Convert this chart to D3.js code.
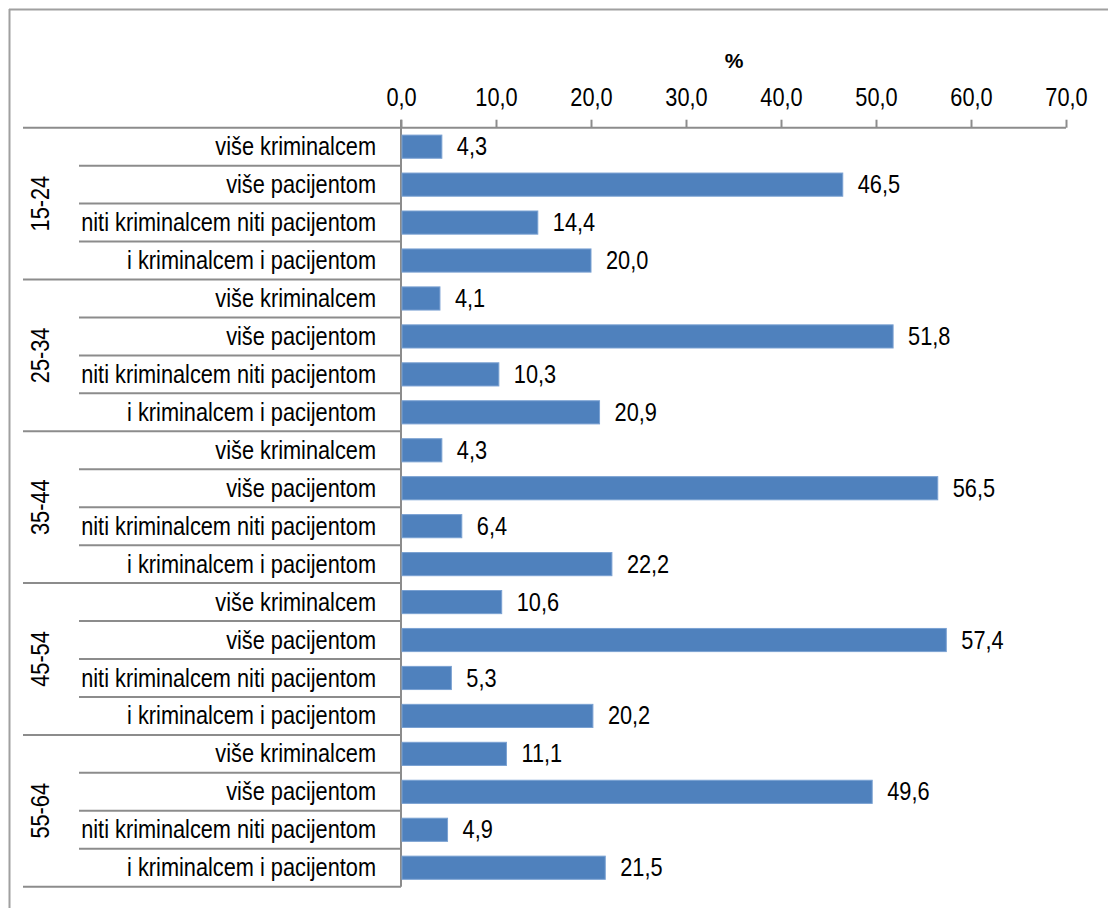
<!DOCTYPE html>
<html>
<head>
<meta charset="utf-8">
<script src="https://cdn.jsdelivr.net/npm/d3@7"></script>
<style>
	body { margin: 0; background: #fff; }
	svg text { font-family: 'Liberation Sans Narrow', 'Arial Narrow', 'Liberation Sans', Arial, sans-serif; fill: #000; }
</style>
</head>
<body>
<svg id="chart" width="1108" height="908"></svg>
<script>
// age groups and answer categories
const groups = ['15-24', '25-34', '35-44', '45-54', '55-64']
const answers = ['više kriminalcem', 'više pacijentom', 'niti kriminalcem niti pacijentom', 'i kriminalcem i pacijentom']

// values per group, in the order of answers
const values1524 = [4.3, 46.5, 14.4, 20.0]
const values2534 = [4.1, 51.8, 10.3, 20.9]
const values3544 = [4.3, 56.5, 6.4, 22.2]
const values4554 = [10.6, 57.4, 5.3, 20.2]
const values5564 = [11.1, 49.6, 4.9, 21.5]

const tickValues = [0, 10, 20, 30, 40, 50, 60, 70]
const axisTitle = '%'

const allValues = [values1524, values2534, values3544, values4554, values5564]

// flatten to rows
const rows = []
groups.forEach((g, gi) => {
	answers.forEach((a, ai) => {
		rows.push({ key: g + '|' + a, group: g, answer: a, value: allValues[gi][ai] })
	})
})

const svg = d3.select('#chart')
const lineColor = '#8c8c8c'
const barColor = '#4f81bd'
const fontSize = 25
//No narrow font offline, so squeeze the regular one
const squeeze = 'scale(0.87,1)'
const fmt = d => d3.format('.1f')(d).replace('.', ',')

//Chart frame (only top and left edges are visible)
svg.append('line').attr('x1', 9).attr('y1', 9.5).attr('x2', 1108).attr('y2', 9.5)
	.attr('stroke', '#a0a0a0').attr('stroke-width', 2)
svg.append('line').attr('x1', 9.5).attr('y1', 9).attr('x2', 9.5).attr('y2', 908)
	.attr('stroke', '#a0a0a0').attr('stroke-width', 2)

const plotLeft = 401, plotRight = 1066, plotTop = 127.7, plotBottom = 886.7

const x = d3.scaleLinear().domain([0, 70]).range([plotLeft, plotRight])
const y = d3.scaleBand().domain(rows.map(d => d.key)).range([plotTop, plotBottom]).paddingInner(0.39).paddingOuter(0.195)
const yStep = d3.scaleBand().domain(rows.map(d => d.key)).range([plotTop, plotBottom])

//Top axis
const xAxis = svg.append('g')
	.attr('transform', 'translate(0,' + plotTop + ')')
	.call(d3.axisTop(x).tickValues(tickValues).tickSize(8).tickSizeOuter(0).tickPadding(14).tickFormat(fmt))
xAxis.select('.domain').remove()
xAxis.selectAll('line').attr('stroke', lineColor).attr('stroke-width', 2)
xAxis.selectAll('text').style('font-size', fontSize + 'px').attr('fill', '#000').attr('transform', squeeze)
xAxis.attr('font-family', null).attr('font-size', null)

//Axis title
svg.append('text')
	.attr('x', 734).attr('y', 68)
	.attr('text-anchor', 'middle')
	.style('font-size', '21px')
	.style('font-weight', 'bold')
	.text(axisTitle)

//Horizontal rules: top line across, group and answer separators on the left
svg.append('line').attr('x1', 23).attr('x2', plotRight).attr('y1', plotTop).attr('y2', plotTop)
	.attr('stroke', lineColor).attr('stroke-width', 2)

rows.forEach((d, i) => {
	const yb = yStep(d.key) + yStep.bandwidth()
	const isGroupEnd = i % answers.length === answers.length - 1
	svg.append('line')
		.attr('x1', isGroupEnd ? 23 : 79).attr('x2', plotLeft)
		.attr('y1', yb).attr('y2', yb)
		.attr('stroke', lineColor).attr('stroke-width', 2)
})

//Vertical axis line
svg.append('line').attr('x1', plotLeft).attr('x2', plotLeft).attr('y1', plotTop - 8).attr('y2', plotBottom)
	.attr('stroke', lineColor).attr('stroke-width', 2)

//Bars
svg.append('g').selectAll('rect').data(rows).enter().append('rect')
	.attr('x', x(0) + 1)
	.attr('y', d => y(d.key))
	.attr('width', d => x(d.value) - x(0) - 1)
	.attr('height', y.bandwidth())
	.attr('fill', barColor)
	.attr('stroke', '#7aa1d2')
	.attr('stroke-width', 1)

//Value labels
svg.append('g').selectAll('text').data(rows).enter().append('text')
	.attr('transform', d => 'translate(' + (x(d.value) + 15) + ',' + (yStep(d.key) + yStep.bandwidth() / 2) + ') ' + squeeze)
	.attr('dominant-baseline', 'central')
	.style('font-size', fontSize + 'px')
	.text(d => fmt(d.value))

//Answer labels
svg.append('g').selectAll('text').data(rows).enter().append('text')
	.attr('transform', d => 'translate(376,' + (yStep(d.key) + yStep.bandwidth() / 2) + ') ' + squeeze)
	.attr('text-anchor', 'end')
	.attr('dominant-baseline', 'central')
	.style('font-size', fontSize + 'px')
	.text(d => d.answer)

//Group labels, rotated
const groupH = yStep.step() * answers.length
svg.append('g').selectAll('text').data(groups).enter().append('text')
	.attr('transform', (d, i) => 'translate(49,' + (plotTop + groupH * (i + 0.5)) + ') rotate(-90) ' + squeeze)
	.attr('text-anchor', 'middle')
	.style('font-size', fontSize + 'px')
	.text(d => d)
</script>
</body>
</html>
